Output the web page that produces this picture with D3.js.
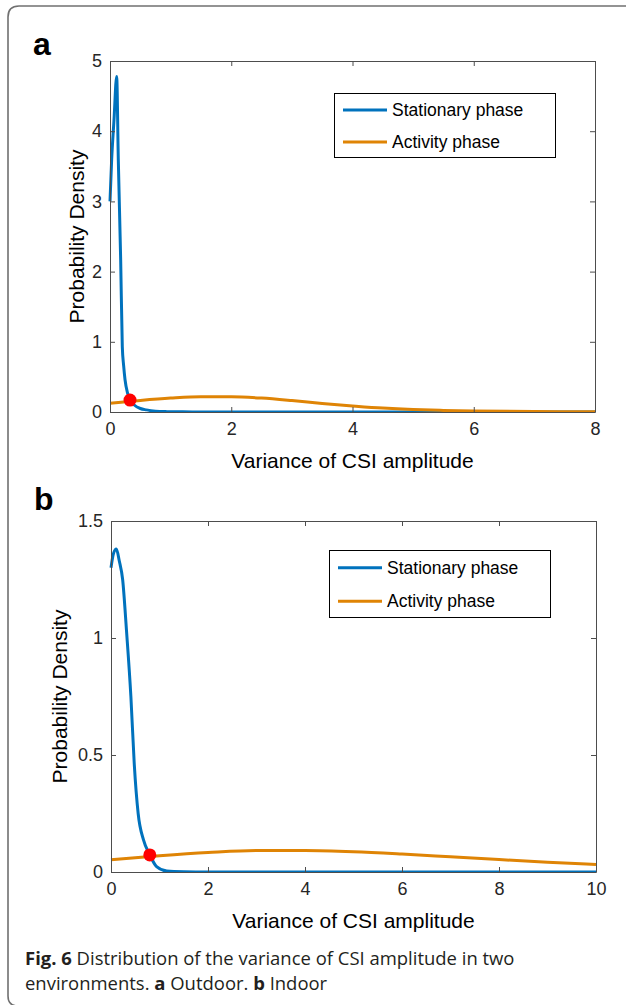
<!DOCTYPE html>
<html>
<head>
<meta charset="utf-8">
<script src="https://cdn.jsdelivr.net/npm/d3@7"></script>
<style>
html,body{margin:0;padding:0;background:#fff;}
svg{display:block;}
</style>
</head>
<body>
<svg id="fig" width="626" height="1005"></svg>
<script>
// ---------- data ----------
const seriesNames = ["Stationary phase", "Activity phase"];

// Panel a (Outdoor)
const aStationaryX = [0, 0.027, 0.066, 0.11, 0.137, 0.176, 0.203, 0.225, 0.248, 0.29, 0.33, 0.4, 0.5, 0.6, 0.75, 0.94, 1.2, 1.5, 2, 3, 4, 5, 6, 7, 8];
const aStationaryY = [3.0, 3.59, 4.16, 4.78, 3.59, 2.17, 0.93, 0.66, 0.46, 0.27, 0.17, 0.1, 0.05, 0.03, 0.012, 0.005, 0.002, 0.001, 0, 0, 0, 0, 0, 0, 0];
const aActivityX = [0, 0.5, 1, 1.5, 2, 2.5, 3, 3.5, 4, 4.5, 5, 5.5, 6, 7, 8];
const aActivityY = [0.125, 0.165, 0.198, 0.218, 0.217, 0.198, 0.163, 0.122, 0.087, 0.056, 0.035, 0.022, 0.014, 0.007, 0.004];
const aCrossX = [0.33];
const aCrossY = [0.17];
const aXTicks = [0, 2, 4, 6, 8];
const aYTicks = [0, 1, 2, 3, 4, 5];

// Panel b (Indoor)
const bStationaryX = [0, 0.05, 0.11, 0.17, 0.24, 0.32, 0.41, 0.48, 0.56, 0.67, 0.8, 0.94, 1.15, 1.5, 2, 3, 4, 5, 6, 7, 8, 9, 10];
const bStationaryY = [1.30, 1.36, 1.38, 1.33, 1.25, 1.03, 0.75, 0.46, 0.25, 0.137, 0.073, 0.023, 0.004, 0.001, 0, 0, 0, 0, 0, 0, 0, 0, 0];
const bActivityX = [0, 1, 2, 3, 4, 5, 6, 7, 8, 9, 10];
const bActivityY = [0.052, 0.069, 0.083, 0.092, 0.092, 0.087, 0.077, 0.065, 0.053, 0.042, 0.032];
const bCrossX = [0.8];
const bCrossY = [0.073];
const bXTicks = [0, 2, 4, 6, 8, 10];
const bYTicks = [0, 0.5, 1, 1.5];

const xLabel = "Variance of CSI amplitude";
const yLabel = "Probability Density";
const captionLine1 = [["Fig. 6", true], [" Distribution of the variance of CSI amplitude in two", false]];
const captionLine2 = [["environments. ", false], ["a", true], [" Outdoor. ", false], ["b", true], [" Indoor", false]];

// ---------- drawing ----------
const svg = d3.select("#fig");
const BLUE = "#0072BD", ORANGE = "#DF8405", AX = "#262626";
const FONT = "'Liberation Sans', Arial, Helvetica, sans-serif";

// outer frame
svg.append("path")
  .attr("d", "M630,6 H19 Q8,6 8,17 V996 Q8,1006 18,1006")
  .attr("fill", "none").attr("stroke", "#707070").attr("stroke-width", 1.6);

function panel(cfg) {
  const {left, top, right, bottom, xDomain, yDomain, xTicks, yTicks, stX, stY, acX, acY, crX, crY,
         letter, letterPos, legendBox, yLabelX, xLabelY, tickFmt} = cfg;
  const x = d3.scaleLinear().domain(xDomain).range([left, right]);
  const y = d3.scaleLinear().domain(yDomain).range([bottom, top]);
  const g = svg.append("g");

  g.append("rect").attr("x", left).attr("y", top).attr("width", right - left).attr("height", bottom - top).attr("fill", "#fff");

  const cid = "clip" + letter;
  svg.append("clipPath").attr("id", cid).append("rect")
    .attr("x", left - 4).attr("y", top - 4).attr("width", right - left + 8).attr("height", bottom - top + 4);

  const line = d3.line().x(d => x(d[0])).y(d => y(d[1])).curve(d3.curveMonotoneX);
  const stData = stX.map((v, i) => [v, stY[i]]);
  const acData = acX.map((v, i) => [v, acY[i]]);

  g.append("path").datum(stData).attr("d", line).attr("clip-path", `url(#${cid})`)
    .attr("fill", "none").attr("stroke", BLUE).attr("stroke-width", 3).attr("stroke-linejoin", "round");
  g.append("path").datum(acData).attr("d", line).attr("clip-path", `url(#${cid})`)
    .attr("fill", "none").attr("stroke", ORANGE).attr("stroke-width", 3).attr("stroke-linejoin", "round");

  const tickLen = 5;
  const xAxB = d3.axisBottom(x).tickValues(xTicks).tickSizeInner(-tickLen).tickSizeOuter(0).tickPadding(10).tickFormat(tickFmt.x);
  const xAxT = d3.axisTop(x).tickValues(xTicks).tickSizeInner(-tickLen).tickSizeOuter(0).tickFormat("");
  const yAxL = d3.axisLeft(y).tickValues(yTicks).tickSizeInner(-tickLen).tickSizeOuter(0).tickPadding(8).tickFormat(tickFmt.y);
  const yAxR = d3.axisRight(y).tickValues(yTicks).tickSizeInner(-tickLen).tickSizeOuter(0).tickFormat("");

  const styleAx = sel => {
    sel.selectAll("path").attr("stroke", "#4d4d4d").attr("stroke-width", 1);
    sel.selectAll("line").attr("stroke", "#4d4d4d").attr("stroke-width", 1);
    sel.selectAll("text").attr("fill", AX).style("font-family", FONT).style("font-size", "18px");
  };
  g.append("g").attr("transform", `translate(0,${bottom})`).call(xAxB).call(styleAx);
  g.append("g").attr("transform", `translate(0,${top})`).call(xAxT).call(styleAx);
  g.append("g").attr("transform", `translate(${left},0)`).call(yAxL).call(styleAx);
  g.append("g").attr("transform", `translate(${right},0)`).call(yAxR).call(styleAx);

  g.selectAll("circle.cross").data(crX.map((v, i) => [v, crY[i]])).join("circle")
    .attr("cx", d => x(d[0])).attr("cy", d => y(d[1])).attr("r", 6.5).attr("fill", "#ff0000");

  g.append("text").attr("x", (left + right) / 2).attr("y", xLabelY).attr("text-anchor", "middle")
    .style("font-family", FONT).style("font-size", "21px").attr("fill", "#000").text(xLabel);
  g.append("text").attr("transform", `translate(${yLabelX},${(top + bottom) / 2}) rotate(-90)`).attr("text-anchor", "middle")
    .style("font-family", FONT).style("font-size", "21px").attr("fill", "#000").text(yLabel);

  g.append("text").attr("x", letterPos[0]).attr("y", letterPos[1])
    .style("font-family", FONT).style("font-size", "32px").style("font-weight", "bold").attr("fill", "#000").text(letter);

  const [lx0, ly0, lx1, ly1] = legendBox;
  const lg = g.append("g");
  lg.append("rect").attr("x", lx0 + 0.5).attr("y", ly0 + 0.5).attr("width", lx1 - lx0).attr("height", ly1 - ly0)
    .attr("fill", "#fff").attr("stroke", "#000").attr("stroke-width", 1);
  const rowH = (ly1 - ly0) / 2;
  [BLUE, ORANGE].forEach((c, i) => {
    const cy = ly0 + rowH * (i + 0.5) + 1;
    lg.append("line").attr("x1", lx0 + 9).attr("x2", lx0 + 53).attr("y1", cy).attr("y2", cy)
      .attr("stroke", c).attr("stroke-width", 3);
    lg.append("text").attr("x", lx0 + 58).attr("y", cy + 6)
      .style("font-family", FONT).style("font-size", "17.5px").attr("fill", "#000").text(seriesNames[i]);
  });
}

panel({
  left: 110, top: 61, right: 595, bottom: 412,
  xDomain: [0, 8], yDomain: [0, 5], xTicks: aXTicks, yTicks: aYTicks,
  stX: aStationaryX, stY: aStationaryY, acX: aActivityX, acY: aActivityY, crX: aCrossX, crY: aCrossY,
  letter: "a", letterPos: [33, 55], legendBox: [334, 93, 555, 157], yLabelX: 84, xLabelY: 468,
  tickFmt: {x: d3.format("d"), y: d3.format("d")}
});

panel({
  left: 111, top: 521, right: 596, bottom: 872,
  xDomain: [0, 10], yDomain: [0, 1.5], xTicks: bXTicks, yTicks: bYTicks,
  stX: bStationaryX, stY: bStationaryY, acX: bActivityX, acY: bActivityY, crX: bCrossX, crY: bCrossY,
  letter: "b", letterPos: [34, 510], legendBox: [329, 550, 550, 617], yLabelX: 67, xLabelY: 928,
  tickFmt: {x: d3.format("d"), y: d => (d === 0 || d === 1) ? d3.format("d")(d) : d3.format(".1f")(d)}
});

// caption: one font size for both lines, chosen so the first line spans the figure's width
const CAPFONT = "'Open Sans', 'Noto Sans', sans-serif";
function captionLine(parts, yPos) {
  const t = svg.append("text").attr("x", 25).attr("y", yPos)
    .style("font-family", CAPFONT).style("font-size", "19px").attr("fill", "#231f20");
  parts.forEach(([s, b]) => t.append("tspan").style("font-weight", b ? "bold" : "normal").text(s));
  return t;
}
const cap1 = captionLine(captionLine1, 965);
const cap2 = captionLine(captionLine2, 990);
const capFs = 19 * 490 / cap1.node().getComputedTextLength();
cap1.style("font-size", capFs.toFixed(2) + "px");
cap2.style("font-size", capFs.toFixed(2) + "px");
</script>
</body>
</html>
